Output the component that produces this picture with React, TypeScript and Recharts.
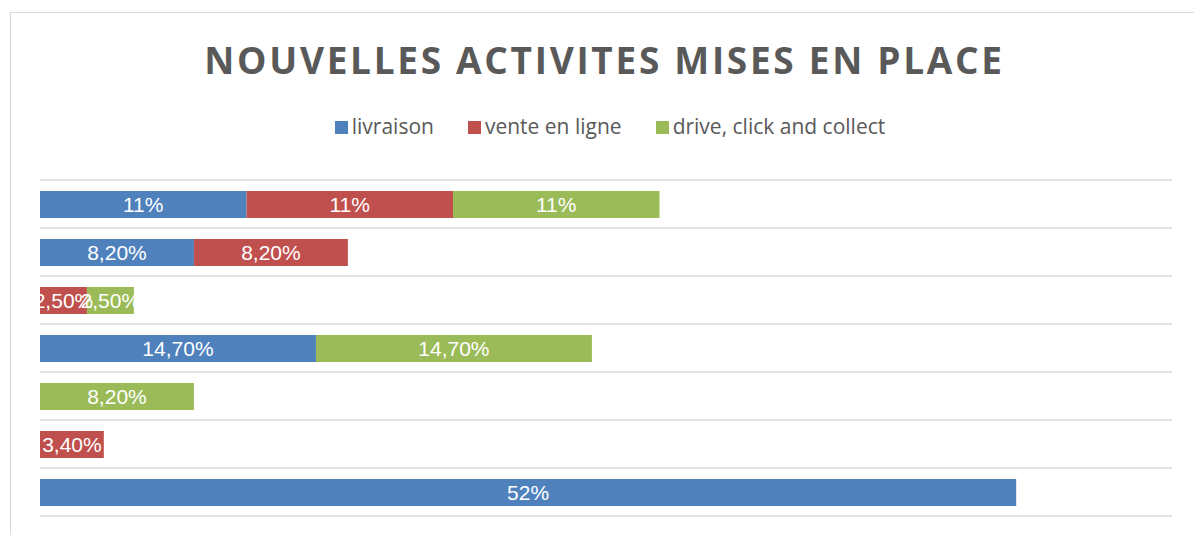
import { BarChart, Bar, XAxis, YAxis, CartesianGrid, LabelList } from "recharts";

// rows, top to bottom (the category names are not shown in the reference)
const categories = ["r1", "r2", "r3", "r4", "r5", "r6", "r7"];
const livraison = [11, 8.2, 0, 14.7, 0, 0, 52];
const venteEnLigne = [11, 8.2, 2.5, 0, 0, 3.4, 0];
const driveClickCollect = [11, 0, 2.5, 14.7, 8.2, 0, 0];

const series = [
  { key: "livraison", name: "livraison", color: "#4F81BD", values: livraison },
  { key: "vente", name: "vente en ligne", color: "#C0504D", values: venteEnLigne },
  { key: "drive", name: "drive, click and collect", color: "#9BBB59", values: driveClickCollect },
];

const data = categories.map((c, i) => {
  const row: Record<string, string | number | null> = { name: c };
  series.forEach((s) => {
    row[s.key] = s.values[i] === 0 ? null : s.values[i];
  });
  return row;
});

// 11 -> "11%", 8.2 -> "8,20%"
const fmt = (v: any) => {
  if (v == null || v === 0) return "";
  const n = Number(v);
  if (Number.isInteger(n)) return `${n}%`;
  return n.toFixed(2).replace(".", ",") + "%";
};

const W = 1194;
const H = 535;
const TOP = 180;
const BOTTOM = 516;

export default function App() {
  return (
    <div
      style={{
        position: "fixed",
        top: 0,
        left: 0,
        width: W,
        height: H,
        background: "#fff",
        overflow: "hidden",
      }}
    >
      <div
        style={{
          position: "absolute",
          left: 10,
          top: 12,
          width: 1200,
          height: 560,
          border: "1.5px solid #d9d9d9",
        }}
      />
      <div
        style={{
          position: "absolute",
          top: 34,
          left: 0,
          width: 1209,
          textAlign: "center",
          fontFamily: "'Open Sans', sans-serif",
          fontWeight: 700,
          fontSize: 37,
          lineHeight: "normal",
          letterSpacing: 2.7,
          color: "#595959",
          whiteSpace: "nowrap",
        }}
      >
        NOUVELLES ACTIVITES MISES EN PLACE
      </div>
      <div
        style={{
          position: "absolute",
          top: 112,
          left: 0,
          width: 1220,
          textAlign: "center",
          fontFamily: "'Open Sans', sans-serif",
          fontSize: 21,
          lineHeight: "normal",
          color: "#595959",
          whiteSpace: "nowrap",
        }}
      >
        {series.map((s, i) => (
          <span key={s.key} style={{ marginLeft: i === 0 ? 0 : 34 }}>
            <span
              style={{
                display: "inline-block",
                width: 13,
                height: 13,
                background: s.color,
                marginRight: 4,
              }}
            />
            {s.name}
          </span>
        ))}
      </div>
      <div style={{ position: "absolute", top: 0, left: 0 }}>
        <BarChart
          width={W}
          height={H}
          data={data}
          layout="vertical"
          margin={{ top: TOP, bottom: H - BOTTOM, left: 40, right: 22 }}
          barSize={27}
        >
          <CartesianGrid
            vertical={false}
            stroke="#d9d9d9"
            strokeWidth={1.5}
            horizontalCoordinatesGenerator={({ offset }: any) =>
              Array.from({ length: categories.length + 1 }, (_, i) =>
                offset.top + (i * offset.height) / categories.length
              )
            }
          />
          <XAxis type="number" hide domain={[0, 60.3]} />
          <YAxis type="category" dataKey="name" hide />
          {series.map((s) => (
            <Bar
              key={s.key}
              dataKey={s.key}
              name={s.name}
              stackId="a"
              fill={s.color}
              isAnimationActive={false}
            >
              <LabelList
                dataKey={s.key}
                position="center"
                formatter={fmt}
                fill="#ffffff"
                style={{ fontFamily: "'Liberation Sans', sans-serif", fontSize: 21 }}
              />
            </Bar>
          ))}
        </BarChart>
      </div>
    </div>
  );
}
